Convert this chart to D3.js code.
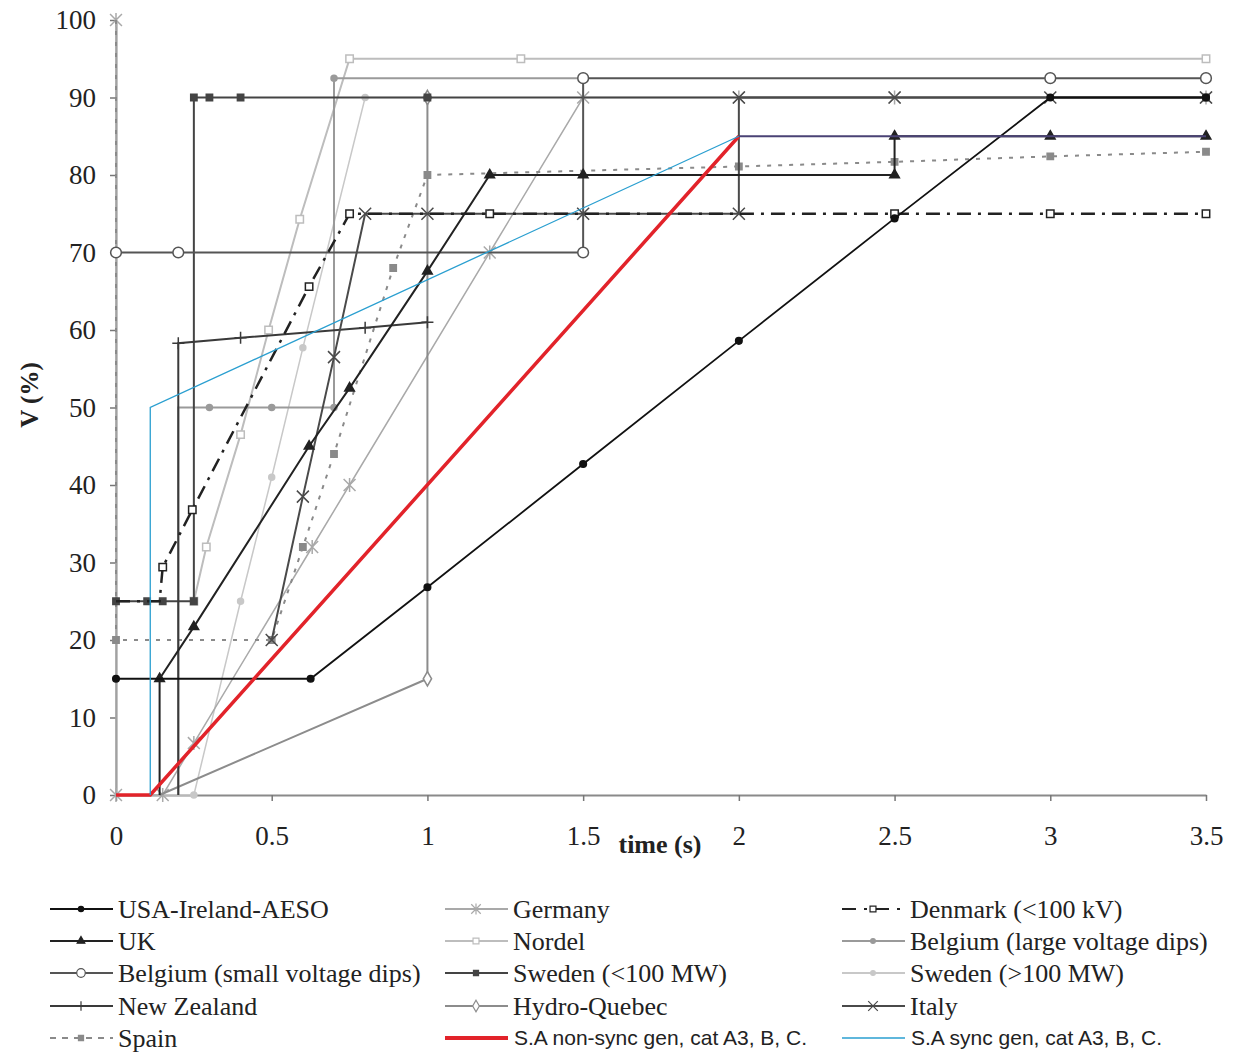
<!DOCTYPE html>
<html>
<head>
<meta charset="utf-8">
<script src="https://cdn.jsdelivr.net/npm/d3@7"></script>
<style>
  body { margin: 0; background: #fff; }
  svg { display: block; }
</style>
</head>
<body>
<svg id="chart" width="1238" height="1053"></svg>
<script>
// ---- values: [time (s), V (%)] ----
var usaIreland   = [[0, 15], [0.625, 15], [1, 26.8], [1.5, 42.7], [2, 58.6], [2.5, 74.4], [3, 90], [3.5, 90]];
var uk           = [[0.14, 0], [0.14, 15], [0.25, 21.7], [0.62, 45], [0.75, 52.5], [1, 67.6], [1.2, 80], [1.5, 80], [2.5, 80], [2.5, 85], [3, 85], [3.5, 85]];
var belgiumSmall = [[0, 70], [0.2, 70], [1.5, 70], [1.5, 92.5], [3, 92.5], [3.5, 92.5]];
var newZealand   = [[0.2, 0], [0.2, 58.3], [0.4, 59], [0.8, 60.3], [1, 61]];
var spain        = [[0, 100], [0, 20], [0.5, 20], [0.6, 32], [0.7, 44], [0.89, 68], [1, 80], [2, 81.1], [2.5, 81.7], [3, 82.4], [3.5, 83]];
var germany      = [[0, 100], [0, 0], [0.15, 0], [0.25, 6.7], [0.63, 32], [0.75, 40], [1.2, 70], [1.5, 90], [2, 90], [2.5, 90], [3.5, 90]];
var nordel       = [[0.25, 25], [0.29, 32], [0.4, 46.5], [0.49, 60], [0.59, 74.3], [0.75, 95], [1.3, 95], [3.5, 95]];
var swedenSmall  = [[0, 25], [0.1, 25], [0.15, 25], [0.25, 25], [0.25, 90], [0.3, 90], [0.4, 90], [1, 90], [3.5, 90]];
var hydroQuebec  = [[0.14, 0], [1, 15], [1, 90]];
var denmark      = [[0, 25], [0.14, 25], [0.15, 29.4], [0.245, 36.8], [0.62, 65.6], [0.75, 75], [1.2, 75], [2.5, 75], [3, 75], [3.5, 75]];
var belgiumLarge = [[0.2, 0], [0.2, 50], [0.3, 50], [0.5, 50], [0.7, 50], [0.7, 92.5], [1.5, 92.5]];
var swedenLarge  = [[0, 0], [0.25, 0], [0.4, 25], [0.5, 41], [0.6, 57.7], [0.8, 90], [1, 90]];
var italy        = [[0.5, 20], [0.6, 38.5], [0.7, 56.5], [0.8, 75], [1, 75], [1.5, 75], [2, 75], [2, 90], [2.5, 90], [3, 90], [3.5, 90]];
var saNonSync    = [[0, 0], [0.11, 0], [2, 85]];
var saSync       = [[0.11, 0], [0.11, 50], [2, 85]];
var saTail       = [[2, 85], [3.5, 85]];

var xTicks = [0, 0.5, 1, 1.5, 2, 2.5, 3, 3.5];
var yTicks = [0, 10, 20, 30, 40, 50, 60, 70, 80, 90, 100];

// ---- chart geometry ----
var svg = d3.select("#chart");
var x = d3.scaleLinear().domain([0, 3.5]).range([116, 1206]);
var y = d3.scaleLinear().domain([0, 100]).range([795, 20]);

var serif = "'Liberation Serif', 'Times New Roman', serif";
var sans = "'Liberation Sans', Arial, sans-serif";

// marker shapes
function cross(s) { return "M" + -s + ",0H" + s + "M0," + -s + "V" + s; }
function times(s) { return "M" + -s + "," + -s + "L" + s + "," + s + "M" + -s + "," + s + "L" + s + "," + -s; }
function star(s) { return times(s * 0.85) + "M0," + -s + "V" + s; }

var markers = {
  dot:      { path: d3.symbol(d3.symbolCircle, 34)(), fill: true },
  tri:      { path: d3.symbol(d3.symbolTriangle, 40)(), fill: true },
  ring:     { path: d3.symbol(d3.symbolCircle, 90)(), fill: false },
  plus:     { path: cross(6), fill: false },
  sq:       { path: d3.symbol(d3.symbolSquare, 40)(), fill: true },
  opensq:   { path: d3.symbol(d3.symbolSquare, 55)(), fill: false },
  diamond:  { path: d3.symbol(d3.symbolDiamond, 60)(), fill: false },
  smalldot: { path: d3.symbol(d3.symbolCircle, 28)(), fill: true },
  x:        { path: times(6), fill: false },
  star:     { path: star(7), fill: false }
};

// styles, order = drawing order
var series = [
  { name: "Sweden (>100 MW)",             data: swedenLarge,  color: "#c8c8c8", width: 1.5, dash: null,       marker: "smalldot", skip: 1 },
  { name: "Nordel",                       data: nordel,       color: "#bdbdbd", width: 2,   dash: null,       marker: "opensq",   skip: 0 },
  { name: "Germany",                      data: germany,      color: "#a9a9a9", width: 1.5, dash: null,       marker: "star",     skip: 0 },
  { name: "Belgium (large voltage dips)", data: belgiumLarge, color: "#9a9a9a", width: 2,   dash: null,       marker: "smalldot", skip: 2 },
  { name: "Hydro-Quebec",                 data: hydroQuebec,  color: "#8c8c8c", width: 2,   dash: null,       marker: "diamond",  skip: 1 },
  { name: "Spain",                        data: spain,        color: "#8a8a8a", width: 2,   dash: "4,7",      marker: "sq",       skip: 1 },
  { name: "Sweden (<100 MW)",             data: swedenSmall,  color: "#444",    width: 2,   dash: null,       marker: "sq",       skip: 0 },
  { name: "Belgium (small voltage dips)", data: belgiumSmall, color: "#555",    width: 2,   dash: null,       marker: "ring",     skip: 0 },
  { name: "New Zealand",                  data: newZealand,   color: "#3a3a3a", width: 2,   dash: null,       marker: "plus",     skip: 1 },
  { name: "Italy",                        data: italy,        color: "#4a4a4a", width: 2,   dash: null,       marker: "x",        skip: 0 },
  { name: "Denmark (<100 kV)",            data: denmark,      color: "#222",    width: 2.5, dash: "14,7,3,7", marker: "opensq",   skip: 2 },
  { name: "UK",                           data: uk,           color: "#222",    width: 2,   dash: null,       marker: "tri",      skip: 1 },
  { name: "USA-Ireland-AESO",             data: usaIreland,   color: "#111",    width: 1.8, dash: null,       marker: "dot",      skip: 0 },
  { name: "S.A non-sync gen, cat A3, B, C.", data: saNonSync, color: "#e2232a", width: 3.5, dash: null,       marker: null,       skip: 0 },
  { name: "S.A sync gen, cat A3, B, C.",  data: saSync,       color: "#2a9fd0", width: 1.3, dash: null,       marker: null,       skip: 0 },
  { name: "",                             data: saTail,       color: "#4a4275", width: 2,   dash: null,       marker: null,       skip: 0 }
];

// ---- axes ----
var yAxis = svg.append("g")
  .attr("transform", "translate(" + x(0) + ",0)")
  .call(d3.axisLeft(y).tickValues(yTicks).tickSize(6).tickSizeOuter(0).tickPadding(14));
var xAxis = svg.append("g")
  .attr("transform", "translate(0," + y(0) + ")")
  .call(d3.axisBottom(x).tickValues(xTicks).tickFormat(d3.format("")).tickSize(6).tickSizeOuter(0).tickPadding(25));

[yAxis, xAxis].forEach(function(a) {
  a.select(".domain").attr("stroke", "#8a8a8a").attr("stroke-width", 2);
  a.selectAll(".tick line").attr("stroke", "#777").attr("stroke-width", 1.5);
  a.selectAll(".tick text").attr("fill", "#222").style("font-family", serif).style("font-size", "27px");
});

svg.append("text")
  .attr("x", 660).attr("y", 853)
  .attr("text-anchor", "middle")
  .style("font-family", serif).style("font-size", "26px").style("font-weight", "bold")
  .attr("fill", "#222")
  .text("time (s)");

svg.append("text")
  .attr("transform", "translate(38,395) rotate(-90)")
  .attr("text-anchor", "middle")
  .style("font-family", serif).style("font-size", "25px").style("font-weight", "bold")
  .attr("fill", "#222")
  .text("V (%)");

// ---- curves ----
var line = d3.line().x(d => x(d[0])).y(d => y(d[1]));
var plot = svg.append("g");

series.forEach(function(s) {
  plot.append("path")
    .datum(s.data)
    .attr("d", line)
    .attr("fill", "none")
    .attr("stroke", s.color)
    .attr("stroke-width", s.width)
    .attr("stroke-dasharray", s.dash)
    .attr("stroke-linejoin", "miter");
  if (s.marker) {
    var m = markers[s.marker];
    plot.selectAll(null)
      .data(s.data.slice(s.skip))
      .enter().append("path")
      .attr("transform", d => "translate(" + x(d[0]) + "," + y(d[1]) + ")")
      .attr("d", m.path)
      .attr("fill", m.fill ? s.color : "#fff")
      .attr("stroke", s.color)
      .attr("stroke-width", 1.5);
  }
});

// ---- legend ----
var legendOrder = [
  "USA-Ireland-AESO", "Germany", "Denmark (<100 kV)",
  "UK", "Nordel", "Belgium (large voltage dips)",
  "Belgium (small voltage dips)", "Sweden (<100 MW)", "Sweden (>100 MW)",
  "New Zealand", "Hydro-Quebec", "Italy",
  "Spain", "S.A non-sync gen, cat A3, B, C.", "S.A sync gen, cat A3, B, C."
];
var colX = [50, 445, 842];
var rowY = [909, 941, 973, 1006, 1038];

legendOrder.forEach(function(name, i) {
  var s = series.find(d => d.name === name);
  var gx = colX[i % 3], gy = rowY[Math.floor(i / 3)];
  var g = svg.append("g").attr("transform", "translate(" + gx + "," + gy + ")");
  var isSA = name.indexOf("S.A") === 0;
  g.append("line")
    .attr("x1", 0).attr("x2", 63).attr("y1", 0).attr("y2", 0)
    .attr("stroke", s.color)
    .attr("stroke-width", isSA ? (s.width > 2 ? 4 : 1.5) : 2)
    .attr("stroke-dasharray", s.dash === "4,7" ? "6,6" : (s.dash ? "14,8,3,8" : null));
  if (s.marker) {
    var m = markers[s.marker];
    g.append("path")
      .attr("transform", "translate(31,0) scale(0.8)")
      .attr("d", m.path)
      .attr("fill", m.fill ? s.color : "#fff")
      .attr("stroke", s.color)
      .attr("stroke-width", 1.5);
  }
  g.append("text")
    .attr("x", isSA ? 69 : 68).attr("y", 0)
    .attr("dy", "0.35em")
    .attr("fill", "#222")
    .style("font-family", isSA ? sans : serif)
    .style("font-size", isSA ? "21px" : "26px")
    .text(name);
});
</script>
</body>
</html>
